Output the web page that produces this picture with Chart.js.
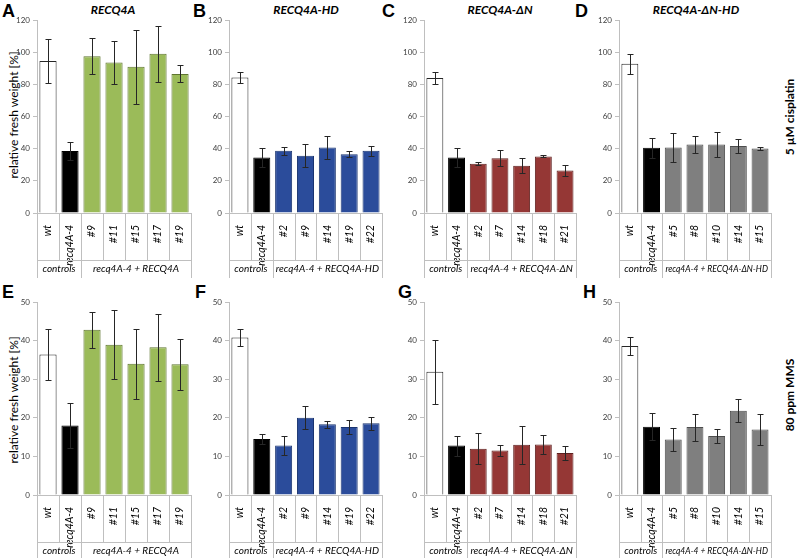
<!DOCTYPE html>
<html>
<head>
<meta charset="utf-8">
<script src="https://cdn.jsdelivr.net/npm/chart.js@4/dist/chart.umd.min.js"></script>
<style>
  body { margin: 0; background: #fff; }
  #wrap { position: relative; width: 800px; height: 559px; overflow: hidden; font-family: Lato, sans-serif; }
  canvas { position: absolute; }
  .letter { position: absolute; font: bold 18px "Liberation Sans", Arial, sans-serif; color: #000; }
  .title { position: absolute; font: italic bold 12px Lato, sans-serif; color: #000; transform: translateX(-50%); white-space: nowrap; }
  .vtext { position: absolute; white-space: nowrap; transform: translate(-50%, -50%) rotate(-90deg); color: #000; }
</style>
</head>
<body>
<div id="wrap">
  <div class="letter" style="left:2px;top:1px">A</div>
  <div class="letter" style="left:193px;top:1px">B</div>
  <div class="letter" style="left:382px;top:1px">C</div>
  <div class="letter" style="left:575px;top:1px">D</div>
  <div class="letter" style="left:2px;top:282px">E</div>
  <div class="letter" style="left:195px;top:282px">F</div>
  <div class="letter" style="left:398px;top:282px">G</div>
  <div class="letter" style="left:583px;top:282px">H</div>

  <div class="title" style="left:113px;top:2px">RECQ4A</div>
  <div class="title" style="left:306px;top:2px">RECQ4A-HD</div>
  <div class="title" style="left:500px;top:2px">RECQ4A-ΔN</div>
  <div class="title" style="left:696px;top:2px">RECQ4A-ΔN-HD</div>

  <div class="vtext" style="left:13px;top:115px;font-size:12px">relative fresh weight [%]</div>
  <div class="vtext" style="left:13px;top:400px;font-size:12px">relative fresh weight [%]</div>
  <div class="vtext" style="left:789px;top:117px;font-size:12px;font-weight:bold">5 µM cisplatin</div>
  <div class="vtext" style="left:789px;top:395px;font-size:12px;font-weight:bold">80 ppm MMS</div>
</div>
<script>
// categories per construct
const labelsA = ['wt', 'recq4A-4', '#9', '#11', '#15', '#17', '#19'];
const labelsB = ['wt', 'recq4A-4', '#2', '#9', '#14', '#19', '#22'];
const labelsC = ['wt', 'recq4A-4', '#2', '#7', '#14', '#18', '#21'];
const labelsD = ['wt', 'recq4A-4', '#5', '#8', '#10', '#14', '#15'];

const groupsA = ['controls', 'recq4A-4 + RECQ4A'];
const groupsB = ['controls', 'recq4A-4 + RECQ4A-HD'];
const groupsC = ['controls', 'recq4A-4 + RECQ4A-ΔN'];
const groupsD = ['controls', 'recq4A-4 + RECQ4A-ΔN-HD'];

// 5 µM cisplatin (top row)
const cisA = [94.5, 38.5, 97.5, 93.5, 91, 99, 86.5];
const cisAErr = [13.5, 5.5, 11, 13.5, 23, 17.5, 5.3];
const cisB = [84.3, 34.5, 38.7, 35.6, 40.7, 36.6, 38.7];
const cisBErr = [3.6, 5.8, 2.4, 7, 7, 1.8, 3.2];
const cisC = [84, 34.5, 30.6, 34, 29.4, 35.2, 26.5];
const cisCErr = [3.8, 5.8, 1, 5, 4.6, 0.6, 3.5];
const cisD = [92.8, 40.6, 40.8, 42.6, 42.6, 41.6, 40.1];
const cisDErr = [6.1, 6.3, 9.2, 5, 7.5, 4.6, 0.7];

// 80 ppm MMS (bottom row)
const mmsE = [36.4, 18, 42.8, 38.9, 34, 38.3, 33.9];
const mmsEErr = [6.7, 5.8, 4.6, 8.9, 9.1, 8.7, 6.6];
const mmsF = [40.8, 14.5, 12.8, 20, 18.3, 17.6, 18.6];
const mmsFErr = [2.2, 1.3, 2.5, 3, 1, 1.8, 1.7];
const mmsG = [31.9, 12.8, 12, 11.5, 13, 13.1, 10.9];
const mmsGErr = [8.3, 2.6, 4, 1.4, 4.9, 2.5, 1.8];
const mmsH = [38.6, 17.7, 14.4, 17.6, 15.3, 21.8, 17];
const mmsHErr = [2.4, 3.5, 3, 3.5, 1.8, 3, 4];

const yTicksTop = { max: 120, step: 20 };
const yTicksBottom = { max: 50, step: 10 };

const FONT = 'Lato, sans-serif';
const TXT = '#404040';
const LINE = '#bfbfbf';

const fills = {
  green: ['#9bbb59', '#5f7530'],
  blue: ['#2b4c9b', '#1a3470'],
  red: ['#953735', '#5e201f'],
  gray: ['#7f7f7f', '#4d4d4d']
};

const errorBars = {
  id: 'errorBars',
  afterDatasetsDraw(chart) {
    const ctx = chart.ctx;
    const y = chart.scales.y;
    const ds = chart.data.datasets[0];
    const meta = chart.getDatasetMeta(0);
    ctx.save();
    ctx.strokeStyle = '#262626';
    ctx.lineWidth = 1;
    meta.data.forEach((bar, i) => {
      const v = ds.data[i], e = ds.errors[i];
      const x = Math.round(bar.x) + 0.5;
      const y1 = Math.round(y.getPixelForValue(v + e)) + 0.5;
      const y2 = Math.round(y.getPixelForValue(v - e)) + 0.5;
      ctx.beginPath();
      ctx.moveTo(x, y1); ctx.lineTo(x, y2);
      ctx.moveTo(x - 3, y1); ctx.lineTo(x + 3, y1);
      ctx.moveTo(x - 3, y2); ctx.lineTo(x + 3, y2);
      ctx.stroke();
    });
    ctx.restore();
  }
};

const groupAxis = {
  id: 'groupAxis',
  afterDraw(chart, args, opts) {
    const { ctx, chartArea } = chart;
    const { left, right, bottom } = chartArea;
    const x = chart.scales.x;
    const n = chart.data.labels.length;
    const edges = [];
    for (let i = 0; i <= n; i++) {
      if (i === 0) edges.push(left);
      else if (i === n) edges.push(right);
      else edges.push((x.getPixelForValue(i - 1) + x.getPixelForValue(i)) / 2);
    }
    const split = bottom + opts.split;
    const end = bottom + opts.depth;
    ctx.save();
    ctx.strokeStyle = LINE;
    ctx.lineWidth = 1;
    ctx.beginPath();
    edges.forEach((ex, i) => {
      const px = Math.round(ex) + 0.5;
      const long = i === 0 || i === 2 || i === n;
      ctx.moveTo(px, bottom);
      ctx.lineTo(px, long ? end : split);
    });
    ctx.moveTo(left, Math.round(split) + 0.5);
    ctx.lineTo(right, Math.round(split) + 0.5);
    ctx.stroke();
    ctx.fillStyle = '#000';
    ctx.font = 'italic 10px ' + FONT;
    ctx.textAlign = 'center';
    ctx.textBaseline = 'middle';
    const ly = split + 9;
    ctx.fillText(opts.groups[0], (edges[0] + edges[2]) / 2, ly, edges[2] - edges[0] - 4);
    ctx.fillText(opts.groups[1], (edges[2] + edges[n]) / 2, ly, edges[n] - edges[2] - 6);
    ctx.restore();
  }
};

function makePanel(p) {
  const canvas = document.createElement('canvas');
  const width = 37 + p.plotW + 5;
  canvas.width = width;
  canvas.height = p.h;
  canvas.style.left = (p.axisX - 37) + 'px';
  canvas.style.top = p.top + 'px';
  document.getElementById('wrap').appendChild(canvas);

  const [fill, border] = fills[p.color];
  const bg = p.labels.map((l, i) => i === 0 ? '#ffffff' : i === 1 ? '#000000' : fill);
  const bd = p.labels.map((l, i) => i === 0 ? '#262626' : i === 1 ? '#000000' : border);

  new Chart(canvas.getContext('2d'), {
    type: 'bar',
    data: {
      labels: p.labels,
      datasets: [{
        data: p.values,
        errors: p.errors,
        backgroundColor: bg,
        borderColor: bd,
        borderWidth: 1,
        barPercentage: 0.78,
        categoryPercentage: 1
      }]
    },
    options: {
      responsive: false,
      animation: false,
      events: [],
      layout: { padding: { top: 20, right: 5, left: 0, bottom: 0 } },
      plugins: {
        legend: { display: false },
        tooltip: { enabled: false },
        groupAxis: { groups: p.groups, split: 47, depth: p.xH - 1 }
      },
      scales: {
        x: {
          grid: { display: false },
          border: { color: LINE },
          ticks: {
            autoSkip: false, maxRotation: 90, minRotation: 90, padding: 4,
            color: '#000', font: { family: FONT, size: 10.5, style: 'italic' }
          },
          afterFit: s => { s.height = p.xH; }
        },
        y: {
          min: 0, max: p.yTicks.max,
          grid: { drawOnChartArea: false, color: LINE, tickLength: 4 },
          border: { color: LINE },
          ticks: { stepSize: p.yTicks.step, padding: 3, color: TXT, font: { family: FONT, size: 8 } },
          afterFit: s => { s.width = 37; }
        }
      }
    },
    plugins: [errorBars, groupAxis]
  });
}

const topRow = { top: 0, h: 279, xH: 66, yTicks: yTicksTop };
const bottomRow = { top: 282, h: 277, xH: 64, yTicks: yTicksBottom };

[
  { ...topRow, axisX: 37, plotW: 155, labels: labelsA, groups: groupsA, values: cisA, errors: cisAErr, color: 'green' },
  { ...topRow, axisX: 229, plotW: 154, labels: labelsB, groups: groupsB, values: cisB, errors: cisBErr, color: 'blue' },
  { ...topRow, axisX: 424, plotW: 153, labels: labelsC, groups: groupsC, values: cisC, errors: cisCErr, color: 'red' },
  { ...topRow, axisX: 619, plotW: 153, labels: labelsD, groups: groupsD, values: cisD, errors: cisDErr, color: 'gray' },
  { ...bottomRow, axisX: 37, plotW: 155, labels: labelsA, groups: groupsA, values: mmsE, errors: mmsEErr, color: 'green' },
  { ...bottomRow, axisX: 229, plotW: 154, labels: labelsB, groups: groupsB, values: mmsF, errors: mmsFErr, color: 'blue' },
  { ...bottomRow, axisX: 424, plotW: 153, labels: labelsC, groups: groupsC, values: mmsG, errors: mmsGErr, color: 'red' },
  { ...bottomRow, axisX: 619, plotW: 153, labels: labelsD, groups: groupsD, values: mmsH, errors: mmsHErr, color: 'gray' }
].forEach(makePanel);
</script>
</body>
</html>
